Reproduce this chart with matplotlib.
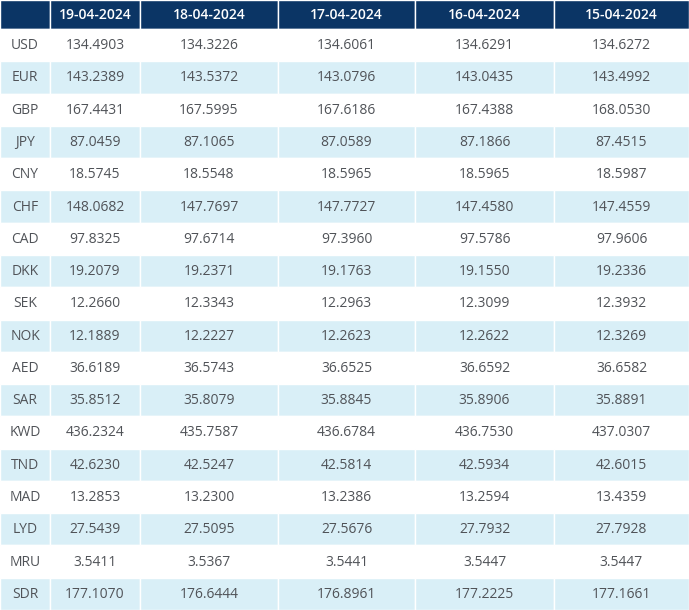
import matplotlib.pyplot as plt
from matplotlib.patches import Rectangle

# ? Table content
dates = ["19-04-2024", "18-04-2024", "17-04-2024", "16-04-2024", "15-04-2024"]
currencies = ["USD", "EUR", "GBP", "JPY", "CNY", "CHF", "CAD", "DKK", "SEK",
              "NOK", "AED", "SAR", "KWD", "TND", "MAD", "LYD", "MRU", "SDR"]
rates_19 = ["134.4903", "143.2389", "167.4431", "87.0459", "18.5745",
            "148.0682", "97.8325", "19.2079", "12.2660", "12.1889",
            "36.6189", "35.8512", "436.2324", "42.6230", "13.2853",
            "27.5439", "3.5411", "177.1070"]
rates_18 = ["134.3226", "143.5372", "167.5995", "87.1065", "18.5548",
            "147.7697", "97.6714", "19.2371", "12.3343", "12.2227",
            "36.5743", "35.8079", "435.7587", "42.5247", "13.2300",
            "27.5095", "3.5367", "176.6444"]
rates_17 = ["134.6061", "143.0796", "167.6186", "87.0589", "18.5965",
            "147.7727", "97.3960", "19.1763", "12.2963", "12.2623",
            "36.6525", "35.8845", "436.6784", "42.5814", "13.2386",
            "27.5676", "3.5441", "176.8961"]
rates_16 = ["134.6291", "143.0435", "167.4388", "87.1866", "18.5965",
            "147.4580", "97.5786", "19.1550", "12.3099", "12.2622",
            "36.6592", "35.8906", "436.7530", "42.5934", "13.2594",
            "27.7932", "3.5447", "177.2225"]
rates_15 = ["134.6272", "143.4992", "168.0530", "87.4515", "18.5987",
            "147.4559", "97.9606", "19.2336", "12.3932", "12.3269",
            "36.6582", "35.8891", "437.0307", "42.6015", "13.4359",
            "27.7928", "3.5447", "177.1661"]


def main():

    columns = [rates_19, rates_18, rates_17, rates_16, rates_15]

    # * Layout in pixels
    edges = [0, 50, 140, 278, 415, 554, 689]
    header_h = 29
    row_h = (610 - header_h) / len(currencies)

    navy = "#0b3565"
    light = "#d9eff7"
    text_col = "#505358"

    fig = plt.figure(figsize=(6.89, 6.10), dpi=100)
    ax = fig.add_axes([0, 0, 1, 1])
    ax.set_xlim(0, 689)
    ax.set_ylim(610, 0)
    ax.axis("off")

    # ? Header row
    for c in range(len(edges) - 1):
        x0, x1 = edges[c], edges[c + 1]
        ax.add_patch(Rectangle((x0, 0), x1 - x0, header_h,
                               facecolor=navy, edgecolor="white", lw=1))
        if c > 0:
            ax.text((x0 + x1) / 2, header_h / 2 + 0.5, dates[c - 1],
                    ha="center", va="center", color="white",
                    fontsize=10, fontweight="semibold", family="Open Sans")

    # ? Body rows
    for r, cur in enumerate(currencies):
        y0 = header_h + r * row_h
        fill = light if r % 2 == 1 else "white"
        for c in range(len(edges) - 1):
            x0, x1 = edges[c], edges[c + 1]
            ax.add_patch(Rectangle((x0, y0), x1 - x0, row_h,
                                   facecolor=fill, edgecolor="white", lw=1))
            label = cur if c == 0 else columns[c - 1][r]
            ax.text((x0 + x1) / 2, y0 + row_h / 2 + 0.5, label,
                    ha="center", va="center", color=text_col,
                    fontsize=10, family="Open Sans")

    fig.savefig("out.png", dpi=100)


if __name__ == "__main__":
    main()
